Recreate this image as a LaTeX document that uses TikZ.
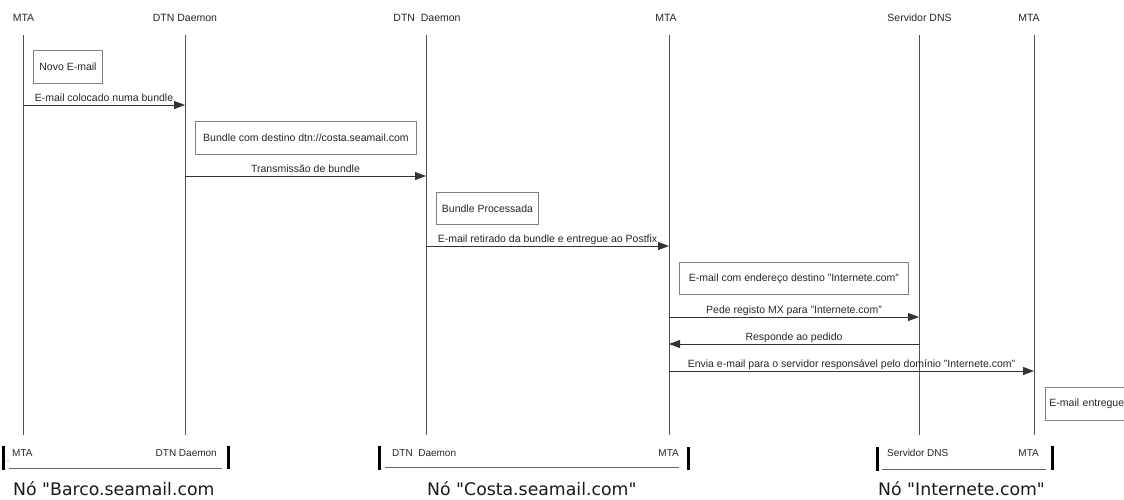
\documentclass[tikz,border=0pt]{standalone}
\usepackage{fontspec}
\setmainfont{Liberation Sans}
\newfontfamily\captionfont{DejaVu Sans}
\usetikzlibrary{arrows.meta}

\begin{document}
\begin{tikzpicture}[x=1pt,y=-1pt,
  txt/.style={font=\fontsize{10.5}{12}\selectfont, text=black!85, inner sep=0pt},
  hdr/.style={txt, anchor=base},
  life/.style={draw=black!68, line width=0.9pt},
  note/.style={txt, draw=black!50, line width=0.9pt, fill=white, anchor=north west},
  msg/.style={draw=black!80, line width=0.9pt, -{Triangle[length=11pt,width=8pt]}},
  msglbl/.style={txt, midway, anchor=base, yshift=4pt},
  bar/.style={draw=black, line width=3pt},
  baseline/.style={draw=black!60, line width=0.9pt},
  grp/.style={txt, font=\fontsize{10}{12}\selectfont},
  caption/.style={font=\captionfont\fontsize{17.3}{20}\selectfont, text=black!90, anchor=base west, inner sep=0pt}
]
\useasboundingbox (0,0) rectangle (1124,499);
\clip (0,0) rectangle (1124,499);

% participant headers
\node[hdr] (h1) at (23.5,21.5) {MTA};
\node[hdr] (h2) at (185,21.5) {DTN Daemon};
\node[hdr] (h3) at (427,21.5) {DTN~~Daemon};
\node[hdr] (h4) at (666,21.5) {MTA};
\node[hdr] (h5) at (919.5,21.5) {Servidor DNS};
\node[hdr] (h6) at (1029,21.5) {MTA};

% lifelines
\coordinate (L1) at (23,35);   \coordinate (L1b) at (23,435);
\coordinate (L2) at (185,35);  \coordinate (L2b) at (185,435);
\coordinate (L3) at (426,35);  \coordinate (L3b) at (426,435);
\coordinate (L4) at (669,35);  \coordinate (L4b) at (669,435);
\coordinate (L5) at (919,35);  \coordinate (L5b) at (919,435);
\coordinate (L6) at (1034,35); \coordinate (L6b) at (1034,435);
\foreach \l in {L1,L2,L3,L4,L5,L6} \draw[life] (\l) -- (\l b);

% activity notes
\node[note, minimum width=69pt, minimum height=33pt] (n1) at (33,50) {Novo E-mail};
\node[note, minimum width=221pt, minimum height=33pt] (n2) at (195,121) {Bundle com destino dtn://costa.seamail.com};
\node[note, minimum width=102pt, minimum height=32pt] (n3) at (436,192) {Bundle Processada};
\node[note, minimum width=229pt, minimum height=32pt] (n4) at (679,262) {E-mail com endereço destino "Internete.com"};
\node[note, minimum width=85pt, minimum height=33pt, align=left, text width=77pt, inner xsep=4pt] (n5) at (1045,387) {E-mail entregue};

% messages
\draw[msg] (L1 |- 0,105) -- node[msglbl] {E-mail colocado numa bundle} (L2 |- 0,105);
\draw[msg] (L2 |- 0,176) -- node[msglbl] {Transmissão de bundle} (L3 |- 0,176);
\draw[msg] (L3 |- 0,246) -- node[msglbl] {E-mail retirado da bundle e entregue ao Postfix} (L4 |- 0,246);
\draw[msg] (L4 |- 0,317) -- node[msglbl] {Pede registo MX para "Internete.com"} (L5 |- 0,317);
\draw[msg] (L5 |- 0,344) -- node[msglbl] {Responde ao pedido} (L4 |- 0,344);
\draw[msg] (L4 |- 0,371) -- node[msglbl] {Envia e-mail para o servidor responsável pelo domínio "Internete.com"} (L6 |- 0,371);

% node groups
\coordinate (g1l) at (3,446);   \coordinate (g1r) at (228,446);
\draw[bar] (g1l) -- ++(0,24);
\draw[bar] (g1r) -- ++(0,23);
\draw[baseline] (9,468) -- (222,468);
\fill[black!60] (8,461) circle (0.7pt);
\node[grp, anchor=base west] (g1a) at (12,456) {MTA};
\node[grp, anchor=base east] (g1b) at (217,456) {DTN Daemon};
\node[caption] (c1) at (13,495) {Nó "Barco.seamail.com};

\coordinate (g2l) at (379,446); \coordinate (g2r) at (688,447);
\draw[bar] (g2l) -- ++(0,24);
\draw[bar] (g2r) -- ++(0,23);
\draw[baseline] (385,467) -- (679,467);
\node[grp, anchor=base west] (g2a) at (392,456) {DTN~~Daemon};
\node[grp, anchor=base east] (g2b) at (679,456) {MTA};
\node[caption] (c2) at (427,495) {Nó "Costa.seamail.com"};

\coordinate (g3l) at (877,447); \coordinate (g3r) at (1052,446);
\draw[bar] (g3l) -- ++(0,24);
\draw[bar] (g3r) -- ++(0,24);
\draw[baseline] (882,469) -- (1046,469);
\node[grp, anchor=base west] (g3a) at (887,456) {Servidor DNS};
\node[grp, anchor=base east] (g3b) at (1039,456) {MTA};
\node[caption] (c3) at (878,495) {Nó "Internete.com"};
\end{tikzpicture}
\end{document}
